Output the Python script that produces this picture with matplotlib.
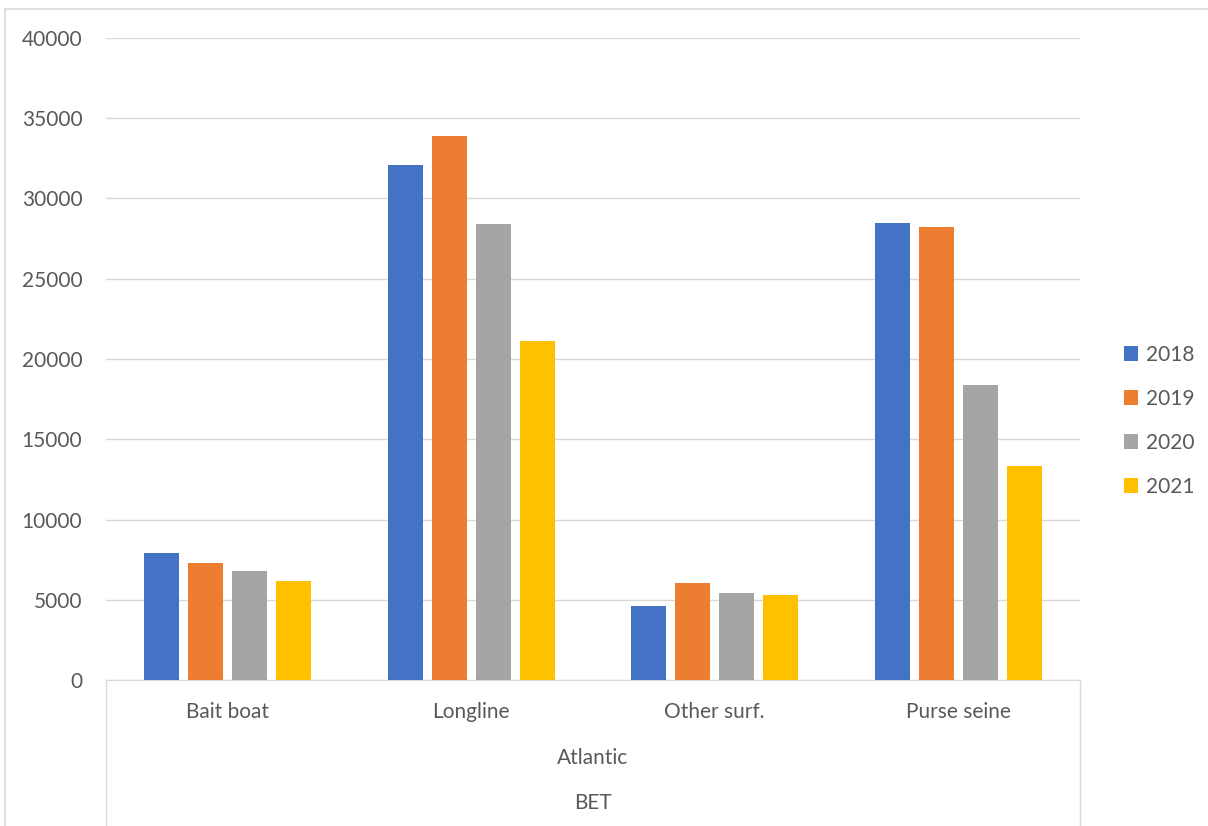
import matplotlib.pyplot as plt
from matplotlib.patches import Rectangle
from matplotlib.lines import Line2D
import numpy as np

plt.rcParams["font.family"] = ["Lato", "DejaVu Sans"]

categories = ["Bait boat", "Longline", "Other surf.", "Purse seine"]
region = "Atlantic"
species = "BET"
years = ["2018", "2019", "2020", "2021"]
values_2018 = [7900, 32100, 4600, 28450]
values_2019 = [7300, 33900, 6050, 28250]
values_2020 = [6800, 28400, 5450, 18350]
values_2021 = [6150, 21100, 5300, 13350]
colors = ["#4472c4", "#ed7d31", "#a5a5a5", "#ffc000"]
yticks = [0, 5000, 10000, 15000, 20000, 25000, 30000, 35000, 40000]

W, H = 1208, 826
FS = 15
TXT = "#595959"
fig = plt.figure(figsize=(W / 100, H / 100), dpi=100)
ax = fig.add_axes([106 / W, 1 - 680 / H, 974 / W, 642 / H])

series = [values_2018, values_2019, values_2020, values_2021]
x = np.arange(len(categories))
width = 35 / 243.5
step = 44 / 243.5
for i, (vals, col, yr) in enumerate(zip(series, colors, years)):
    ax.bar(x + (i - 1.5) * step, vals, width, color=col, label=yr, zorder=3)

ax.set_xlim(-0.5, len(categories) - 0.5)
ax.set_ylim(0, 40000)
ax.set_yticks(yticks)
ax.set_yticklabels([str(v) for v in yticks], fontsize=FS, color=TXT)
ax.tick_params(axis="y", length=0, pad=17)
ax.set_xticks([])
ax.grid(axis="y", color="#d9d9d9", linewidth=1, zorder=0)
for s in ["top", "right", "left"]:
    ax.spines[s].set_visible(False)
ax.spines["bottom"].set_color("#d9d9d9")

# multi-level category axis drawn below the plot
trans = fig.transFigure
for xp in [106, 1080]:
    fig.add_artist(Line2D([xp / W, xp / W], [0, 1 - 680 / H], color="#d9d9d9", lw=1, transform=trans))
for i, cat in enumerate(categories):
    fig.text((106 + 243.5 * (i + 0.5)) / W, 1 - 712 / H, cat, ha="center", va="center",
             fontsize=FS, color=TXT)
fig.text(593 / W, 1 - 758 / H, region, ha="center", va="center", fontsize=FS, color=TXT)
fig.text(593 / W, 1 - 803 / H, species, ha="center", va="center", fontsize=FS, color=TXT)

# chart border
fig.add_artist(Rectangle((5 / W, -0.1), 1.2, 1 - 9 / H + 0.1, transform=trans, fill=False,
                         edgecolor="#d9d9d9", lw=1.2))

leg = fig.legend(loc="center left", bbox_to_anchor=(1105 / W, 1 - 421 / H), frameon=False,
                 fontsize=FS, handlelength=0.7, handleheight=0.7, handletextpad=0.35,
                 labelspacing=1.15)
for t in leg.get_texts():
    t.set_color(TXT)

fig.savefig("out.png", dpi=100)
